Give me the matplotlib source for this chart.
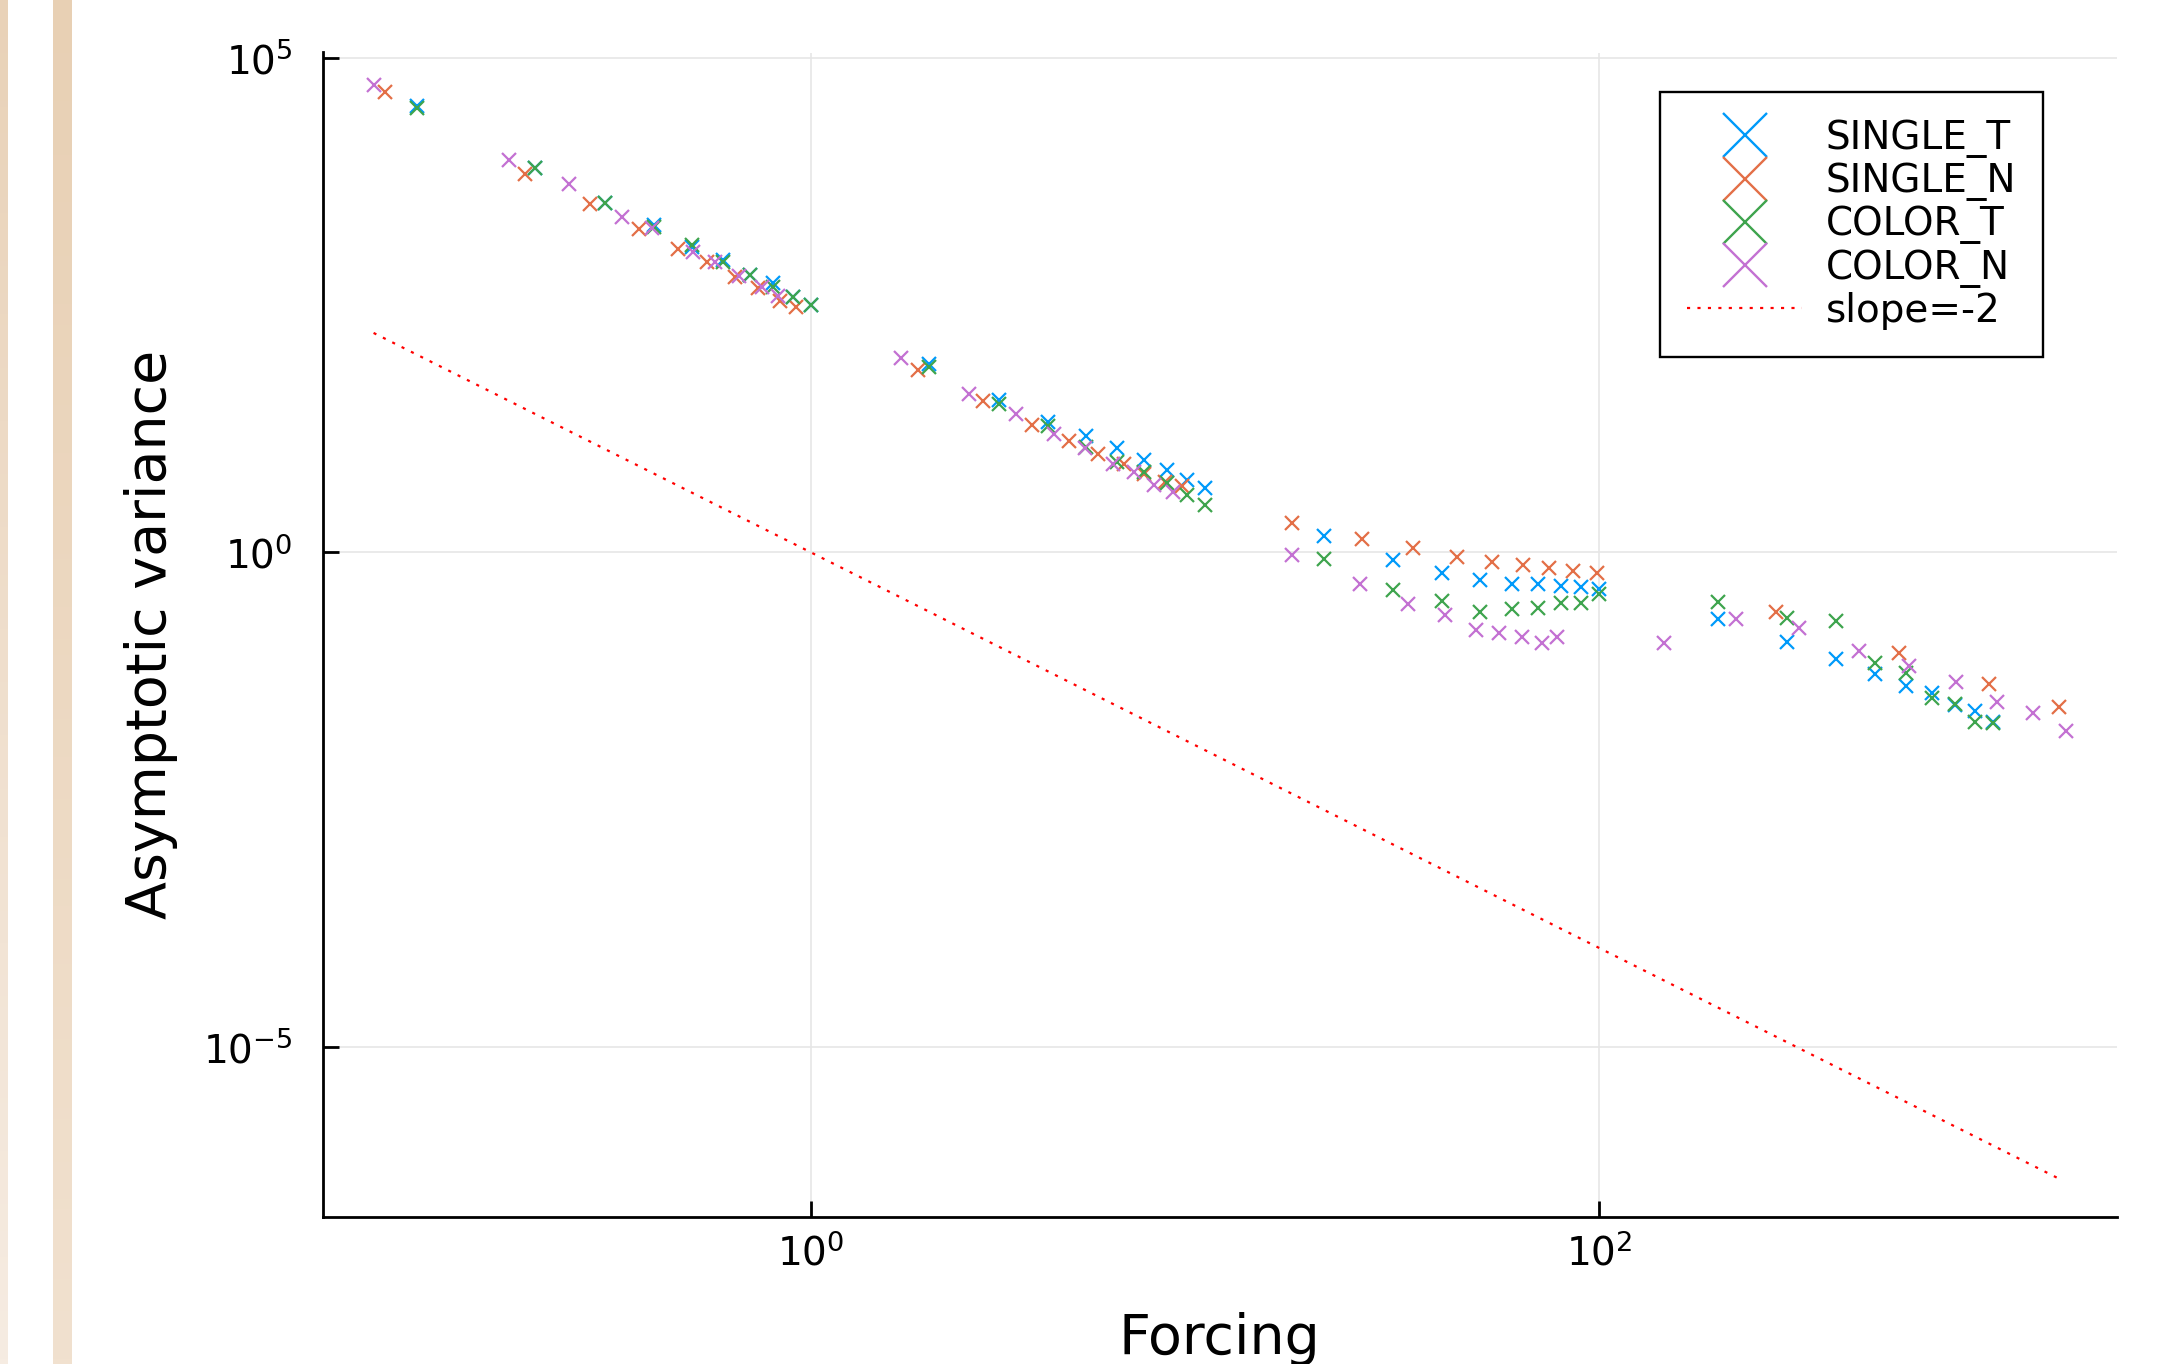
#!/usr/bin/env python3
"""
Asymptotic variance against forcing, log-log, with a slope=-2 guide
"""
import numpy as np
import matplotlib
matplotlib.use('Agg')
import matplotlib.pyplot as plt
from matplotlib.lines import Line2D
from matplotlib.colors import LinearSegmentedColormap

# forcing used by the *_T runs
forcingT = [0.1, 0.2, 0.3, 0.4, 0.5, 0.6, 0.7, 0.8, 0.9, 1.0,
            2, 3, 4, 5, 6, 7, 8, 9, 10,
            20, 30, 40, 50, 60, 70, 80, 90, 100,
            200, 300, 400, 500, 600, 700, 800, 900, 1000]
singleT = [32800, 7590, 3390, 2040, 1230, 904, 640, 525, 380, 316,
           79.6, 34.7, 20.5, 14.8, 11.3, 8.57, 6.81, 5.38, 4.44,
           1.46, 0.836, 0.614, 0.525, 0.474, 0.474, 0.456, 0.450, 0.426,
           0.210, 0.125, 0.0834, 0.0583, 0.0449, 0.0376, 0.0288, 0.0249, 0.0191]
colorT = [31000, 7640, 3436, 1950, 1279, 855, 637, 485, 378, 316,
          75.5, 31.3, 18.9, 11.5, 8.24, 6.44, 5.06, 3.79, 3.01,
          0.855, 0.416, 0.322, 0.251, 0.265, 0.272, 0.310, 0.310, 0.376,
          0.317, 0.215, 0.202, 0.0755, 0.0598, 0.0339, 0.0291, 0.0190, 0.0187]

# *_N runs have their own forcing values
forcingSingleN = [0.0832, 0.188, 0.275, 0.367, 0.461, 0.547, 0.643, 0.733, 0.836, 0.918,
                  1.87, 2.74, 3.65, 4.53, 5.37, 6.25, 7.01, 7.93, 8.77,
                  16.6, 25.0, 33.8, 43.6, 53.6, 64.0, 74.6, 85.9, 98.6,
                  281, 578, 977, 1472]
singleN = [44770, 6640, 3300, 1845, 1159, 867, 604, 467, 350, 300,
           69.7, 33.9, 19.4, 13.2, 9.79, 7.76, 6.19, 5.11, 4.71,
           1.96, 1.35, 1.10, 0.904, 0.804, 0.745, 0.700, 0.652, 0.614,
           0.247, 0.0953, 0.0462, 0.0275]
forcingColorN = [0.0778, 0.172, 0.244, 0.332, 0.395, 0.504, 0.570, 0.659, 0.752, 0.826,
                 1.69, 2.52, 3.31, 4.13, 4.97, 5.86, 6.59, 7.43, 8.28,
                 16.6, 24.7, 32.7, 40.6, 48.6, 55.8, 63.7, 71.6, 78.2,
                 146, 222, 321, 455, 612, 804, 1021, 1259, 1531]
colorN = [53090, 9270, 5297, 2472, 1888, 1079, 867, 622, 485, 391,
          93.1, 39.9, 24.8, 15.6, 11.4, 7.82, 6.44, 4.79, 4.05,
          0.940, 0.478, 0.300, 0.232, 0.164, 0.154, 0.140, 0.122, 0.140,
          0.122, 0.212, 0.171, 0.100, 0.0708, 0.0485, 0.0308, 0.0236, 0.0156]

# reference line, slope -2
slopeX = [0.0778, 1472]
slopeY = [165, 4.6e-7]

series = [('SINGLE_T', forcingT, singleT, '#009AFA'),
          ('SINGLE_N', forcingSingleN, singleN, '#E36F47'),
          ('COLOR_T', forcingT, colorT, '#3EA44E'),
          ('COLOR_N', forcingColorN, colorN, '#C371D2')]

W, H = 2165, 1364
fig = plt.figure(figsize=(W / 100, H / 100), dpi=100)

# beige strips on the left edge
for x0, w, c0, c1 in [(0, 8, '#e9d2b8', '#f6ece2'), (53, 19, '#e8d0b4', '#f1e1cf')]:
    bax = fig.add_axes([x0 / W, 0, w / W, 1])
    cmap = LinearSegmentedColormap.from_list('strip', [c0, c1])
    bax.imshow(np.linspace(0, 1, 256).reshape(-1, 1), aspect='auto', cmap=cmap)
    bax.axis('off')

ax = fig.add_axes([323 / W, 1 - 1216.7 / H, (2116.7 - 323) / W, (1216.7 - 52.5) / H])
ax.set_xscale('log')
ax.set_yscale('log')

for name, xs, ys, col in series:
    ax.plot(xs, ys, linestyle='none', marker='x', ms=10, mew=1.6, color=col)
ax.plot(slopeX, slopeY, color='red', lw=1.6, linestyle=(0, (1.4, 3.3)))

ax.set_xlim(0.0579, 2056)
ax.set_ylim(1.91e-7, 1.13e5)
ax.set_xticks([1, 100])
ax.set_yticks([1e-5, 1, 1e5])
ax.minorticks_off()
ax.grid(True, color='#e6e6e6', lw=1.2)
ax.set_axisbelow(True)

for s in ['top', 'right']:
    ax.spines[s].set_visible(False)
for s in ['left', 'bottom']:
    ax.spines[s].set_linewidth(2)
ax.tick_params(direction='in', length=11.5, width=2, labelsize=28)
ax.tick_params(axis='y', pad=22)
ax.tick_params(axis='x', pad=12)

ax.set_xlabel('Forcing', fontsize=40)
ax.xaxis.set_label_coords(0.5, -0.082)
ax.set_ylabel('Asymptotic variance', fontsize=40)
ax.yaxis.set_label_coords(-0.0807, 0.5)

handles = [Line2D([], [], linestyle='none', marker='x', ms=31, mew=1.7, color=c)
           for _, _, _, c in series]
handles.append(Line2D([], [], color='red', lw=1.6, linestyle=(0, (1.4, 3.3))))
labels = [s[0] for s in series] + ['slope=-2']
leg = ax.legend(handles, labels, loc='upper left', bbox_to_anchor=(1660 / W, 1 - 91.7 / H),
                bbox_transform=fig.transFigure, fontsize=28, borderpad=0.7,
                labelspacing=0.11, handlelength=2.96, handletextpad=0.6,
                borderaxespad=0, fancybox=False, framealpha=1, edgecolor='black')
leg.get_frame().set_linewidth(1.7)

fig.savefig('out.png', dpi=100)
